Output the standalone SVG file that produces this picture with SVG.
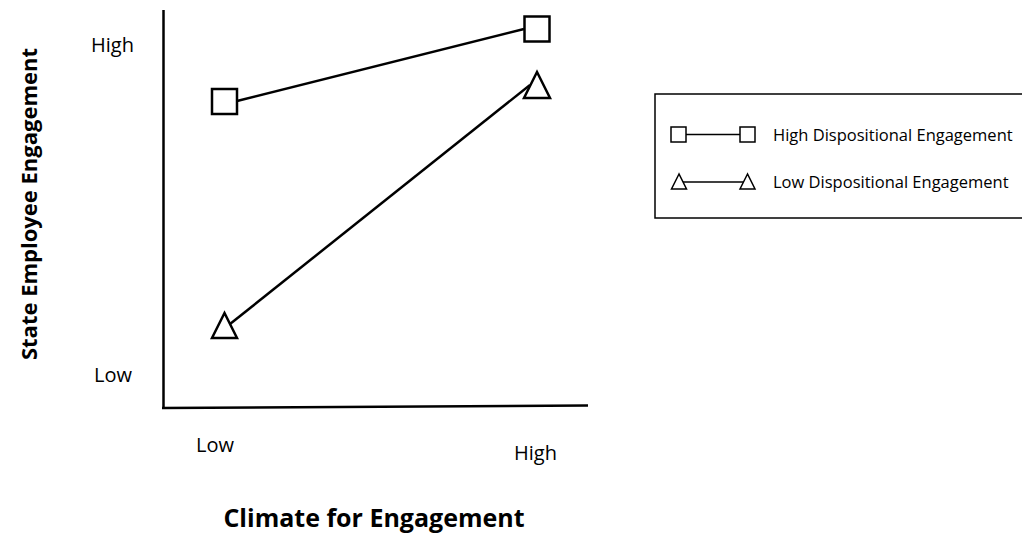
<svg xmlns="http://www.w3.org/2000/svg" width="1022" height="535" viewBox="0 0 1022 535">
  <style>
    .lbl { font-family: "Open Sans", "Liberation Sans", sans-serif; font-size: 20px; fill: #000; }
    .ttl { font-family: "Open Sans", "Liberation Sans", sans-serif; font-size: 25px; font-weight: bold; fill: #000; }
    .leg { font-family: "Open Sans", "Liberation Sans", sans-serif; font-size: 16.5px; fill: #000; }
    .mk { fill: #fff; stroke: #000; stroke-width: 2.5; }
    .mks { fill: #fff; stroke: #000; stroke-width: 1.5; }
    .ln { stroke: #000; stroke-width: 2.5; fill: none; }
    .lns { stroke: #000; stroke-width: 1.5; fill: none; }
    .axis { stroke: #000; stroke-width: 2.5; fill: none; }
  </style>
  <rect width="1022" height="535" fill="#fff"/>

  <!-- axes -->
  <g id="axes">
    <line class="axis" x1="163.5" y1="10" x2="163.5" y2="408"/>
    <line class="axis" x1="162" y1="408" x2="588" y2="405.5"/>
  </g>

  <!-- axis labels -->
  <g id="axis-labels">
    <text class="lbl" x="91" y="52">High</text>
    <text class="lbl" x="94" y="382">Low</text>
    <text class="lbl" x="196" y="452">Low</text>
    <text class="lbl" x="514" y="460">High</text>
    <text class="ttl" x="374" y="527" text-anchor="middle">Climate for Engagement</text>
    <text class="ttl" transform="translate(37,204) rotate(-90)" text-anchor="middle" style="font-size:22px">State Employee Engagement</text>
  </g>

  <!-- series lines -->
  <g id="connectors">
    <line class="ln" x1="237" y1="101" x2="524" y2="29"/>
    <line class="ln" x1="230" y1="324" x2="530" y2="85"/>
  </g>

  <!-- high dispositional engagement points -->
  <g id="high-low-climate">
    <rect class="mk" x="212" y="89" width="25" height="25"/>
  </g>
  <g id="high-high-climate">
    <rect class="mk" x="524.5" y="16.5" width="25" height="25"/>
  </g>

  <!-- low dispositional engagement points -->
  <g id="low-low-climate">
    <polygon class="mk" points="224.5,313 212,338 237,338"/>
  </g>
  <g id="low-high-climate">
    <polygon class="mk" points="537,72 524,98 550,98"/>
  </g>

  <!-- legend -->
  <g id="legend">
    <rect x="655" y="94" width="370" height="124" fill="#fff" stroke="#000" stroke-width="1.5"/>
    <line class="lns" x1="686" y1="134.5" x2="740" y2="134.5"/>
    <rect class="mks" x="671" y="127" width="15" height="15"/>
    <rect class="mks" x="740" y="127" width="15" height="15"/>
    <text class="leg" x="773" y="140.5">High Dispositional Engagement</text>
    <line class="lns" x1="681" y1="182" x2="745" y2="182"/>
    <polygon class="mks" points="679,174 671.5,189 686.5,189"/>
    <polygon class="mks" points="747.5,174 740,189 755,189"/>
    <text class="leg" x="773" y="187.5">Low Dispositional Engagement</text>
  </g>
</svg>
